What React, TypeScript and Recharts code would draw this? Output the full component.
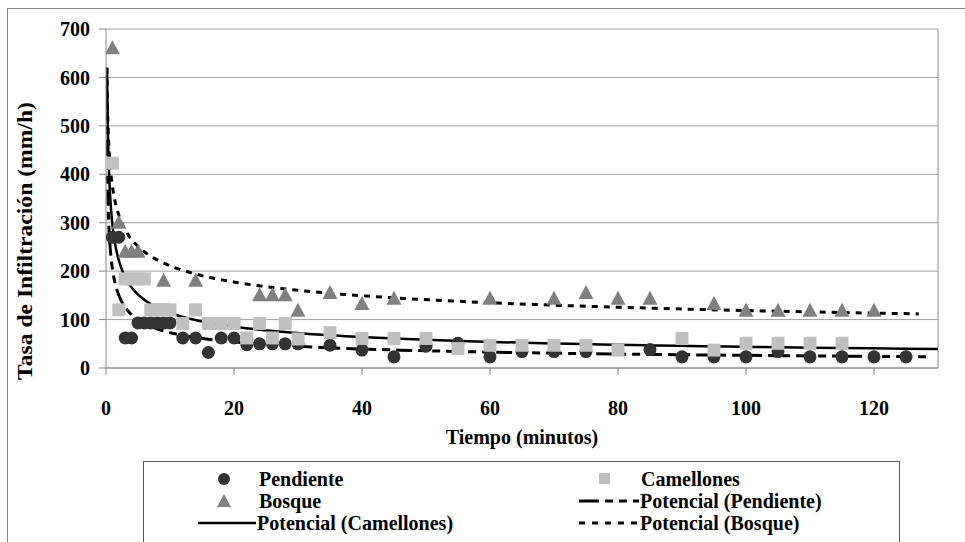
import React from "react";
import {
  ComposedChart,
  Scatter,
  Line,
  XAxis,
  YAxis,
  CartesianGrid,
  ReferenceLine,
} from "recharts";

// Tiempo (min) y tasa de infiltración (mm/h) medidas en cada uso de suelo
const TIEMPO_PENDIENTE = [1, 2, 3, 4, 5, 6, 7, 8, 9, 10, 12, 14, 16, 18, 20, 22, 24, 26, 28, 30, 35, 40, 45, 50, 55, 60, 65, 70, 75, 85, 90, 95, 100, 105, 110, 115, 120, 125];
const TASA_PENDIENTE = [270, 270, 62, 62, 93, 93, 93, 93, 93, 93, 62, 62, 32, 62, 62, 48, 50, 50, 50, 50, 47, 37, 23, 45, 51, 23, 34, 34, 34, 38, 23, 23, 23, 34, 23, 23, 23, 23];

const TIEMPO_CAMELLONES = [1, 2, 3, 4, 5, 6, 7, 8, 9, 10, 12, 14, 16, 18, 20, 22, 24, 26, 28, 30, 35, 40, 45, 50, 55, 60, 65, 70, 75, 80, 90, 95, 100, 105, 110, 115];
const TASA_CAMELLONES = [423, 120, 184, 184, 184, 184, 120, 120, 120, 120, 92, 120, 92, 92, 92, 62, 92, 62, 92, 60, 73, 61, 61, 61, 40, 47, 47, 47, 47, 37, 61, 37, 51, 51, 51, 51];

const TIEMPO_BOSQUE = [1, 2, 3, 4, 5, 9, 14, 24, 26, 28, 30, 35, 40, 45, 60, 70, 75, 80, 85, 95, 100, 105, 110, 115, 120];
const TASA_BOSQUE = [660, 300, 240, 240, 240, 180, 180, 150, 150, 150, 118, 155, 132, 143, 143, 143, 155, 143, 143, 132, 118, 118, 118, 118, 118];

const X_TICKS = [0, 20, 40, 60, 80, 100, 120];
const Y_TICKS = [0, 100, 200, 300, 400, 500, 600, 700];

const FONT = "Liberation Serif, Times New Roman, Times, serif";
const AXIS_GRAY = "#868686";

type Punto = { t: number; v: number };

const toPoints = (ts: number[], vs: number[]): Punto[] => ts.map((t, i) => ({ t, v: vs[i] }));

// Ajuste potencial v = a * t^b por mínimos cuadrados en escala log-log
function ajustePotencial(ts: number[], vs: number[]) {
  const n = ts.length;
  const lx = ts.map(Math.log);
  const ly = vs.map(Math.log);
  const mx = lx.reduce((s, x) => s + x, 0) / n;
  const my = ly.reduce((s, y) => s + y, 0) / n;
  let sxy = 0;
  let sxx = 0;
  for (let i = 0; i < n; i++) {
    sxy += (lx[i] - mx) * (ly[i] - my);
    sxx += (lx[i] - mx) * (lx[i] - mx);
  }
  const b = sxy / sxx;
  const a = Math.exp(my - b * mx);
  return { a, b };
}

// La curva arranca donde la tendencia vale ~620 mm/h y llega hasta "hasta"
function curvaPotencial(ts: number[], vs: number[], hasta: number): Punto[] {
  const { a, b } = ajustePotencial(ts, vs);
  const desde = Math.max(0.1, Math.pow(620 / a, 1 / b));
  const pasos = 160;
  const out: Punto[] = [];
  for (let i = 0; i <= pasos; i++) {
    const t = desde * Math.pow(hasta / desde, i / pasos);
    out.push({ t, v: a * Math.pow(t, b) });
  }
  return out;
}

const pendiente = toPoints(TIEMPO_PENDIENTE, TASA_PENDIENTE);
const camellones = toPoints(TIEMPO_CAMELLONES, TASA_CAMELLONES);
const bosque = toPoints(TIEMPO_BOSQUE, TASA_BOSQUE);

const tendPendiente = curvaPotencial(TIEMPO_PENDIENTE, TASA_PENDIENTE, 129);
const tendCamellones = curvaPotencial(TIEMPO_CAMELLONES, TASA_CAMELLONES, 130);
const tendBosque = curvaPotencial(TIEMPO_BOSQUE, TASA_BOSQUE, 127);

const CIRCLE_FILL = "#333333";
const SQUARE_FILL = "#c0c0c0";
const TRIANGLE_FILL = "#808080";

const Circulo = (p: any) => <circle cx={p.cx} cy={p.cy} r={6.5} fill={CIRCLE_FILL} />;
const Cuadro = (p: any) => <rect x={p.cx - 6.5} y={p.cy - 6.5} width={13} height={13} fill={SQUARE_FILL} />;
const Triangulo = (p: any) => (
  <polygon
    points={`${p.cx},${p.cy - 8} ${p.cx - 7.5},${p.cy + 6} ${p.cx + 7.5},${p.cy + 6}`}
    fill={TRIANGLE_FILL}
  />
);

const DASH_PENDIENTE = "16 6 8 6 8 6";
const DASH_BOSQUE = "6 6";

const tickStyle = { fontSize: 20, fontWeight: 700, fill: "#000", fontFamily: FONT };

function Leyenda() {
  const fila = (y: number) => ({ position: "absolute" as const, top: y - 12, height: 24, lineHeight: "24px" });
  const texto: React.CSSProperties = { fontSize: 20, fontWeight: 700, color: "#000", whiteSpace: "nowrap" };
  return (
    <div
      style={{
        position: "absolute",
        left: 143,
        top: 461,
        width: 755,
        height: 120,
        border: "1px solid #555",
        background: "#fff",
        fontFamily: FONT,
      }}
    >
      <svg width={755} height={100} style={{ position: "absolute", left: 0, top: 0 }}>
        <circle cx={80} cy={17} r={6} fill={CIRCLE_FILL} />
        <polygon points="80,32 73,45 87,45" fill={TRIANGLE_FILL} />
        <line x1={54} x2={112} y1={61} y2={61} stroke="#000" strokeWidth={2.5} />
        <rect x={455} y={11} width={11} height={11} fill={SQUARE_FILL} />
        <line x1={435} x2={495} y1={39} y2={39} stroke="#000" strokeWidth={3} strokeDasharray="20 6 8 6 8 6" />
        <line x1={435} x2={495} y1={61} y2={61} stroke="#000" strokeWidth={3} strokeDasharray="6 7" />
      </svg>
      <div style={{ ...fila(17), left: 115, ...texto }}>Pendiente</div>
      <div style={{ ...fila(39), left: 115, ...texto }}>Bosque</div>
      <div style={{ ...fila(61), left: 113, ...texto }}>Potencial (Camellones)</div>
      <div style={{ ...fila(17), left: 497, ...texto }}>Camellones</div>
      <div style={{ ...fila(39), left: 496, ...texto }}>Potencial (Pendiente)</div>
      <div style={{ ...fila(61), left: 496, ...texto }}>Potencial (Bosque)</div>
    </div>
  );
}

export default function App() {
  return (
    <div
      style={{
        position: "fixed",
        left: 0,
        top: 0,
        width: 965,
        height: 542,
        overflow: "hidden",
        background: "#fff",
        fontFamily: FONT,
      }}
    >
      <div
        style={{
          position: "absolute",
          left: 7,
          top: 8,
          width: 1000,
          height: 600,
          border: `1px solid ${AXIS_GRAY}`,
        }}
      />
      <div style={{ position: "absolute", left: 0, top: 0 }}>
        <ComposedChart width={965} height={542} margin={{ top: 29, right: 27, bottom: 144, left: 36 }}>
          <CartesianGrid vertical={false} stroke="#a0a0a0" horizontalValues={Y_TICKS} />
          <XAxis
            type="number"
            dataKey="t"
            domain={[0, 130]}
            ticks={X_TICKS}
            allowDataOverflow
            height={30}
            stroke={AXIS_GRAY}
            tickSize={7}
            tickMargin={26}
            tick={tickStyle}
          />
          <YAxis
            type="number"
            dataKey="v"
            domain={[0, 700]}
            ticks={Y_TICKS}
            allowDataOverflow
            width={70}
            stroke={AXIS_GRAY}
            tickSize={7}
            tickMargin={9}
            tick={tickStyle}
          />
          <ReferenceLine x={130} stroke={AXIS_GRAY} />
          <Scatter name="Pendiente" data={pendiente} shape={Circulo} isAnimationActive={false} />
          <Scatter name="Camellones" data={camellones} shape={Cuadro} isAnimationActive={false} />
          <Scatter name="Bosque" data={bosque} shape={Triangulo} isAnimationActive={false} />
          <Line
            name="Potencial (Pendiente)"
            data={tendPendiente}
            dataKey="v"
            type="linear"
            dot={false}
            stroke="#000"
            strokeWidth={3}
            strokeDasharray={DASH_PENDIENTE}
            isAnimationActive={false}
          />
          <Line
            name="Potencial (Camellones)"
            data={tendCamellones}
            dataKey="v"
            type="linear"
            dot={false}
            stroke="#000"
            strokeWidth={2.5}
            isAnimationActive={false}
          />
          <Line
            name="Potencial (Bosque)"
            data={tendBosque}
            dataKey="v"
            type="linear"
            dot={false}
            stroke="#000"
            strokeWidth={3}
            strokeDasharray={DASH_BOSQUE}
            isAnimationActive={false}
          />
        </ComposedChart>
      </div>
      <div
        style={{
          position: "absolute",
          left: 522,
          top: 437,
          transform: "translate(-50%, -50%)",
          fontSize: 20,
          fontWeight: 700,
          whiteSpace: "nowrap",
        }}
      >
        Tiempo (minutos)
      </div>
      <div
        style={{
          position: "absolute",
          left: 25,
          top: 241,
          transform: "translate(-50%, -50%) rotate(-90deg) scaleX(1.18)",
          fontSize: 20,
          fontWeight: 700,
          whiteSpace: "nowrap",
        }}
      >
        Tasa de Infiltración (mm/h)
      </div>
      <Leyenda />
    </div>
  );
}
